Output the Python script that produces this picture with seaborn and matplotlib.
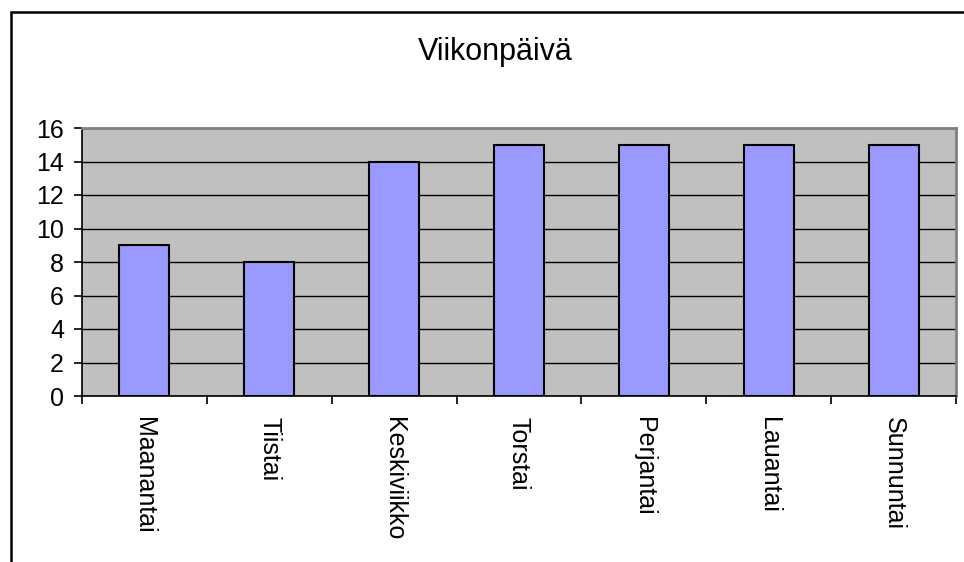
import matplotlib
matplotlib.use("Agg")
import matplotlib.pyplot as plt
from matplotlib.lines import Line2D
import seaborn as sns
import pandas as pd

days = ["Maanantai", "Tiistai", "Keskiviikko", "Torstai", "Perjantai", "Lauantai", "Sunnuntai"]
counts = [9, 8, 14, 15, 15, 15, 15]
y_ticks = [0, 2, 4, 6, 8, 10, 12, 14, 16]
title = "Viikonpäivä"

sns.set_theme(style="white")
plt.rcParams["font.family"] = ["Liberation Sans", "DejaVu Sans"]
plt.rcParams["text.color"] = "black"
plt.rcParams["xtick.color"] = "black"
plt.rcParams["ytick.color"] = "black"

df = pd.DataFrame({"day": days, "count": counts})

fig = plt.figure(figsize=(9.64, 5.62), dpi=100)
ax = fig.add_axes([82/964, 1-396/562, (956-82)/964, (396-128)/562])
ax.set_facecolor("#C0C0C0")

sns.barplot(data=df, x="day", y="count", color="#9999FF", saturation=1,
            width=0.4, edgecolor="black", linewidth=1.5, ax=ax, zorder=3)

ax.set_xlim(-0.5, len(days) - 0.5)
ax.set_ylim(0, 16)
ax.set_yticks(y_ticks)
ax.set_yticklabels([str(v) for v in y_ticks], fontsize=18)
ax.yaxis.grid(True, color="black", linewidth=1.0)
ax.set_axisbelow(True)

ax.set_xticks(range(len(days)))
ax.set_xticklabels(days, rotation=-90, fontsize=18, va="top", ha="center")
ax.set_xticks([i - 0.5 for i in range(len(days) + 1)], minor=True)
ax.tick_params(axis="x", which="major", length=0, pad=15)
ax.tick_params(axis="x", which="minor", length=6, width=1.2, color="black", direction="out", bottom=True)
ax.tick_params(axis="y", which="major", length=6, width=1.2, color="black", direction="out", left=True, pad=7)

ax.set_xlabel("")
ax.set_ylabel("")

for s in ["left", "bottom"]:
    ax.spines[s].set_color("black")
    ax.spines[s].set_linewidth(1.2)
for s in ["top", "right"]:
    ax.spines[s].set_color("#808080")
    ax.spines[s].set_linewidth(2)
    ax.spines[s].set_visible(True)

fig.text(495/964, 1-52/562, title, fontsize=22, ha="center", va="center")

# outer chart frame (left and top edges visible)
fig.add_artist(Line2D([10.5/964, 10.5/964], [0, 1-12/562], color="black", linewidth=1.8,
                      transform=fig.transFigure))
fig.add_artist(Line2D([10.5/964, 1], [1-12/562, 1-12/562], color="black", linewidth=1.8,
                      transform=fig.transFigure))

fig.savefig("out.png", dpi=100, facecolor="white")
